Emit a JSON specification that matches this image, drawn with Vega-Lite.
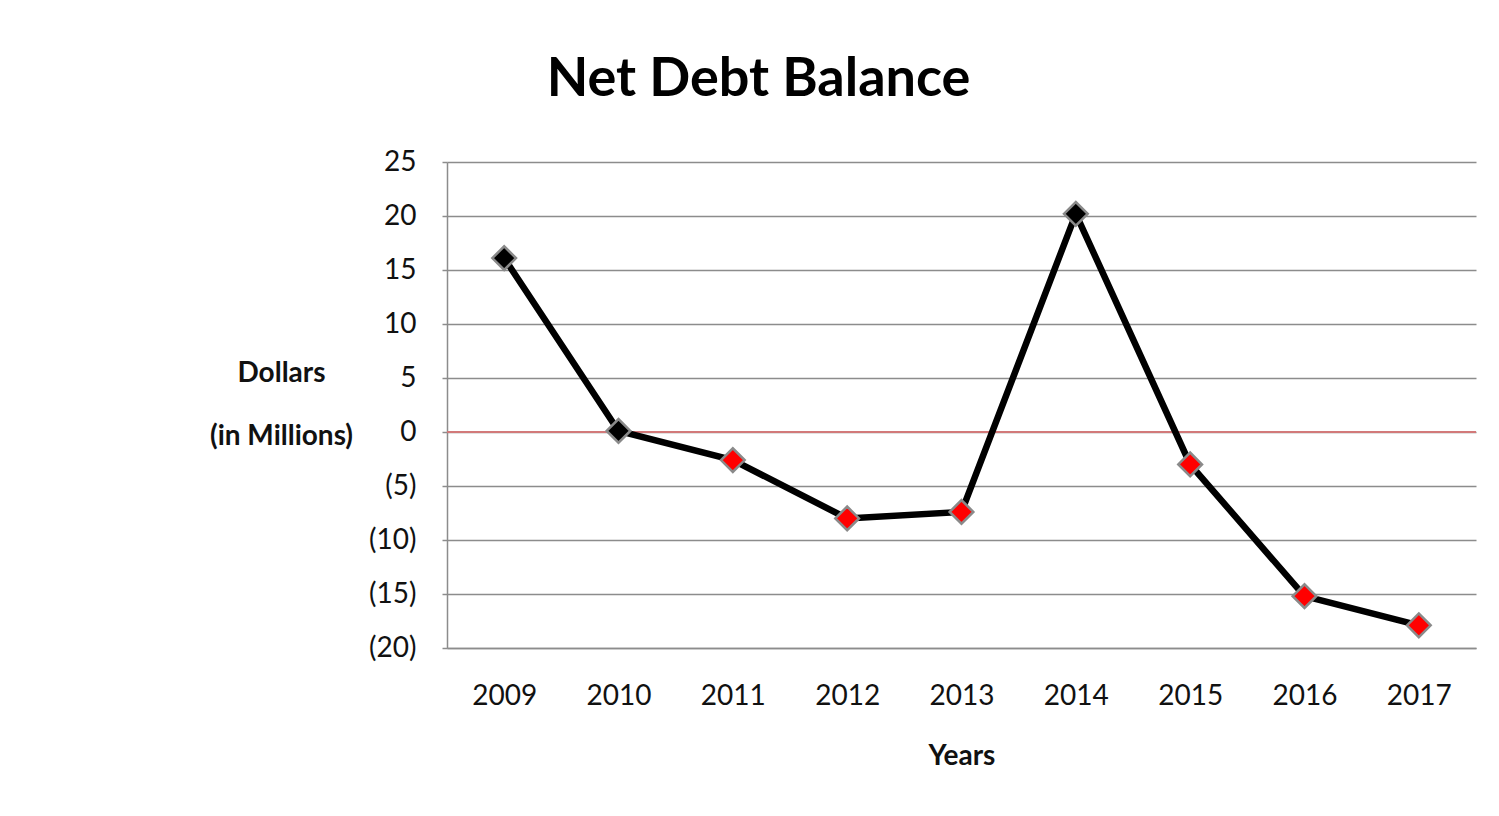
{
  "$schema": "https://vega.github.io/schema/vega-lite/v6.json",
  "width": 1029,
  "height": 486,
  "autosize": {"type": "none"},
  "padding": {"left": 447, "top": 162, "right": 23, "bottom": 168},
  "background": "white",
  "title": {
    "text": "Net Debt Balance",
    "font": "Lato",
    "fontSize": 54,
    "fontWeight": "bold",
    "color": "black",
    "anchor": "middle",
    "frame": "group",
    "dx": -203,
    "baseline": "alphabetic",
    "offset": -2
  },
  "config": {
    "view": {"stroke": null},
    "axis": {
      "labelFont": "Lato",
      "titleFont": "Lato",
      "labelColor": "#111",
      "titleColor": "#111"
    }
  },
  "data": {
    "values": [
      {"year": "2009", "value": 16.1},
      {"year": "2010", "value": 0.1},
      {"year": "2011", "value": -2.6},
      {"year": "2012", "value": -8.0},
      {"year": "2013", "value": -7.4},
      {"year": "2014", "value": 20.2},
      {"year": "2015", "value": -3.0},
      {"year": "2016", "value": -15.2},
      {"year": "2017", "value": -17.9}
    ]
  },
  "encoding": {
    "x": {
      "field": "year",
      "type": "ordinal",
      "scale": {"type": "point", "padding": 0.5},
      "axis": {
        "title": "Years",
        "titleFontSize": 28,
        "titleFontWeight": "bold",
        "titleY": 116,
        "titleBaseline": "alphabetic",
        "labelAngle": 0,
        "labelFontSize": 28,
        "labelBaseline": "top",
        "labelPadding": 34,
        "ticks": false,
        "domainColor": "#8c8c8c",
        "domainWidth": 1.5,
        "grid": false
      }
    },
    "y": {
      "field": "value",
      "type": "quantitative",
      "scale": {"domain": [-20, 25], "nice": false, "zero": false},
      "axis": {
        "values": [-20, -15, -10, -5, 0, 5, 10, 15, 20, 25],
        "labelExpr": "datum.value < 0 ? '(' + abs(datum.value) + ')' : datum.value",
        "labelFontSize": 28,
        "labelPadding": 26,
        "tickSize": 5,
        "tickColor": "#8c8c8c",
        "tickWidth": 1.5,
        "domainColor": "#8c8c8c",
        "domainWidth": 1.5,
        "gridColor": "#8c8c8c",
        "gridWidth": 1.5,
        "gridOpacity": 1,
        "title": ["Dollars", "(in Millions)"],
        "titleAngle": 0,
        "titleAlign": "center",
        "titleBaseline": "alphabetic",
        "titleX": -166,
        "titleY": 219,
        "titleLineHeight": 63,
        "titleFontSize": 28,
        "titleFontWeight": "bold"
      }
    }
  },
  "layer": [
    {
      "mark": {"type": "rule", "color": "#d27a7a", "strokeWidth": 1.5},
      "encoding": {"y": {"datum": 0}, "x": {"value": 0}, "x2": {"value": 1029}}
    },
    {
      "mark": {"type": "line", "color": "black", "strokeWidth": 6.5}
    },
    {
      "mark": {"type": "point", "shape": "diamond", "filled": true, "size": 560, "opacity": 1, "stroke": "#8a8a8a", "strokeWidth": 2.5},
      "encoding": {
        "fill": {"condition": {"test": "datum.value >= 0", "value": "black"}, "value": "#ff0000"}
      }
    }
  ]
}
